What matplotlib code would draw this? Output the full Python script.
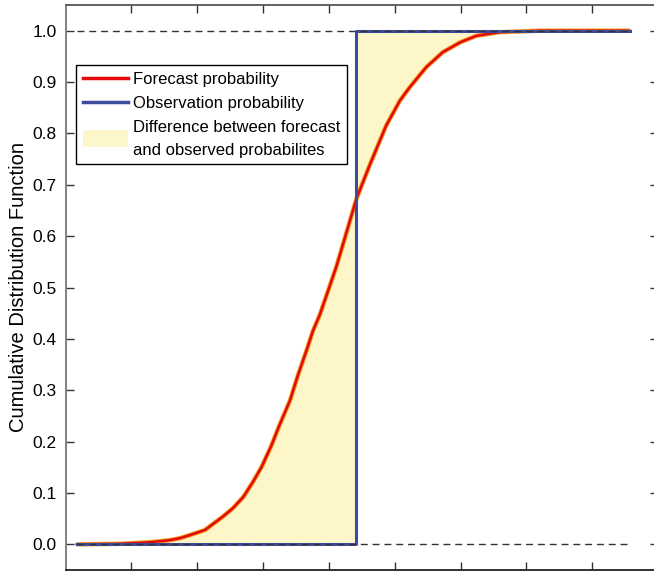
import numpy as np
import matplotlib
matplotlib.use("Agg")
import matplotlib.pyplot as plt
from matplotlib.lines import Line2D
from matplotlib.patches import Patch, Rectangle
from matplotlib.legend_handler import HandlerPatch

plt.rcParams.update({"font.family": ["Liberation Sans", "DejaVu Sans"]})

# forecast CDF (x in tick units, no labels shown)
fcst_x = [0.17, 0.82, 1.28, 1.58, 1.74, 1.89, 2.12, 2.39, 2.54, 2.70, 2.85,
          2.98, 3.13, 3.25, 3.41, 3.53, 3.66, 3.76, 3.86, 3.99, 4.12, 4.42,
          4.62, 4.87, 5.08, 5.23, 5.48, 5.73, 5.99, 6.24, 6.59, 7.00, 7.20,
          7.81, 8.57]
fcst_p = [0.0, 0.001, 0.004, 0.008, 0.012, 0.018, 0.028, 0.054, 0.070, 0.092,
          0.122, 0.151, 0.193, 0.232, 0.280, 0.329, 0.377, 0.416, 0.446, 0.494,
          0.543, 0.673, 0.738, 0.815, 0.864, 0.890, 0.929, 0.958, 0.977, 0.990,
          0.997, 0.999, 1.0, 1.0, 1.0]

# observation: a step at the observed value
obs_x = [0.17, 4.42, 4.42, 8.57]
obs_p = [0.0, 0.0, 1.0, 1.0]

C_FCST = "#e20a0a"
C_OBS = "#3d4c9e"
C_FILL = "#fdf6c9"

fig = plt.figure(figsize=(6.54, 5.75), dpi=100)
ax = fig.add_axes([65.5 / 654, 5 / 575, 592.5 / 654, 565 / 575])

# shaded area between the two CDFs
poly_x = np.r_[fcst_x, obs_x[::-1]]
poly_p = np.r_[fcst_p, obs_p[::-1]]
ax.fill(poly_x, poly_p, facecolor=C_FILL, edgecolor="none", zorder=1)

ax.plot(fcst_x, fcst_p, color="#f39a1e", lw=3.2, zorder=2,
        solid_capstyle="butt")
ax.plot(fcst_x, fcst_p, color=C_FCST, lw=1.8, zorder=3)
ax.plot(obs_x, obs_p, color=C_OBS, lw=2.2, zorder=4)

for lvl in (0.0, 1.0):
    ax.plot([obs_x[0], obs_x[-1]], [lvl, lvl], color="#333333", lw=1.0,
            ls=(0, (5, 3.5)), zorder=5)

ax.set_xlim(0, 9)
ax.set_ylim(-0.05, 1.05)
ax.set_xticks(np.arange(1, 9))
ax.set_xticklabels([])
ax.set_yticks(np.arange(0, 1.01, 0.1))
ax.set_yticklabels([f"{v:.1f}" for v in np.arange(0, 1.01, 0.1)])
ax.tick_params(direction="in", length=6, width=1.0, top=True, right=True,
               labelsize=12.5, pad=6.5, color="#333333")
ax.set_ylabel("Cumulative Distribution Function", fontsize=14.5, labelpad=3)

for side, col in (("left", "#777777"), ("top", "#555555"),
                  ("right", "#555555"), ("bottom", "#222222")):
    ax.spines[side].set_color(col)
    ax.spines[side].set_linewidth(1.3)


def _swatch(legend, orig_handle, xdescent, ydescent, width, height, fontsize):
    # taller swatch, centred on its two-line label
    h = 1.02 * fontsize
    cy = -ydescent + height / 2 + 0.5
    return Rectangle((-xdescent, cy - h / 2), width, h)


handles = [Line2D([], [], color=C_FCST, lw=2.5),
           Line2D([], [], color=C_OBS, lw=2.5),
           Patch(facecolor=C_FILL, edgecolor="none")]
labels = ["Forecast probability", "Observation probability",
          "Difference between forecast\nand observed probabilites"]
leg = ax.legend(handles, labels, loc="upper left",
                bbox_to_anchor=(10.5 / 592.5, 1 - 60 / 565), borderaxespad=0,
                fontsize=12, handlelength=2.7, handletextpad=0.3,
                borderpad=0.4, labelspacing=0.56,
                fancybox=False, framealpha=1, edgecolor="black",
                handler_map={Patch: HandlerPatch(patch_func=_swatch)})
leg.get_frame().set_linewidth(1.0)
for t in leg.get_texts():
    t.set_linespacing(1.6)

fig.savefig("out.png", dpi=100)
